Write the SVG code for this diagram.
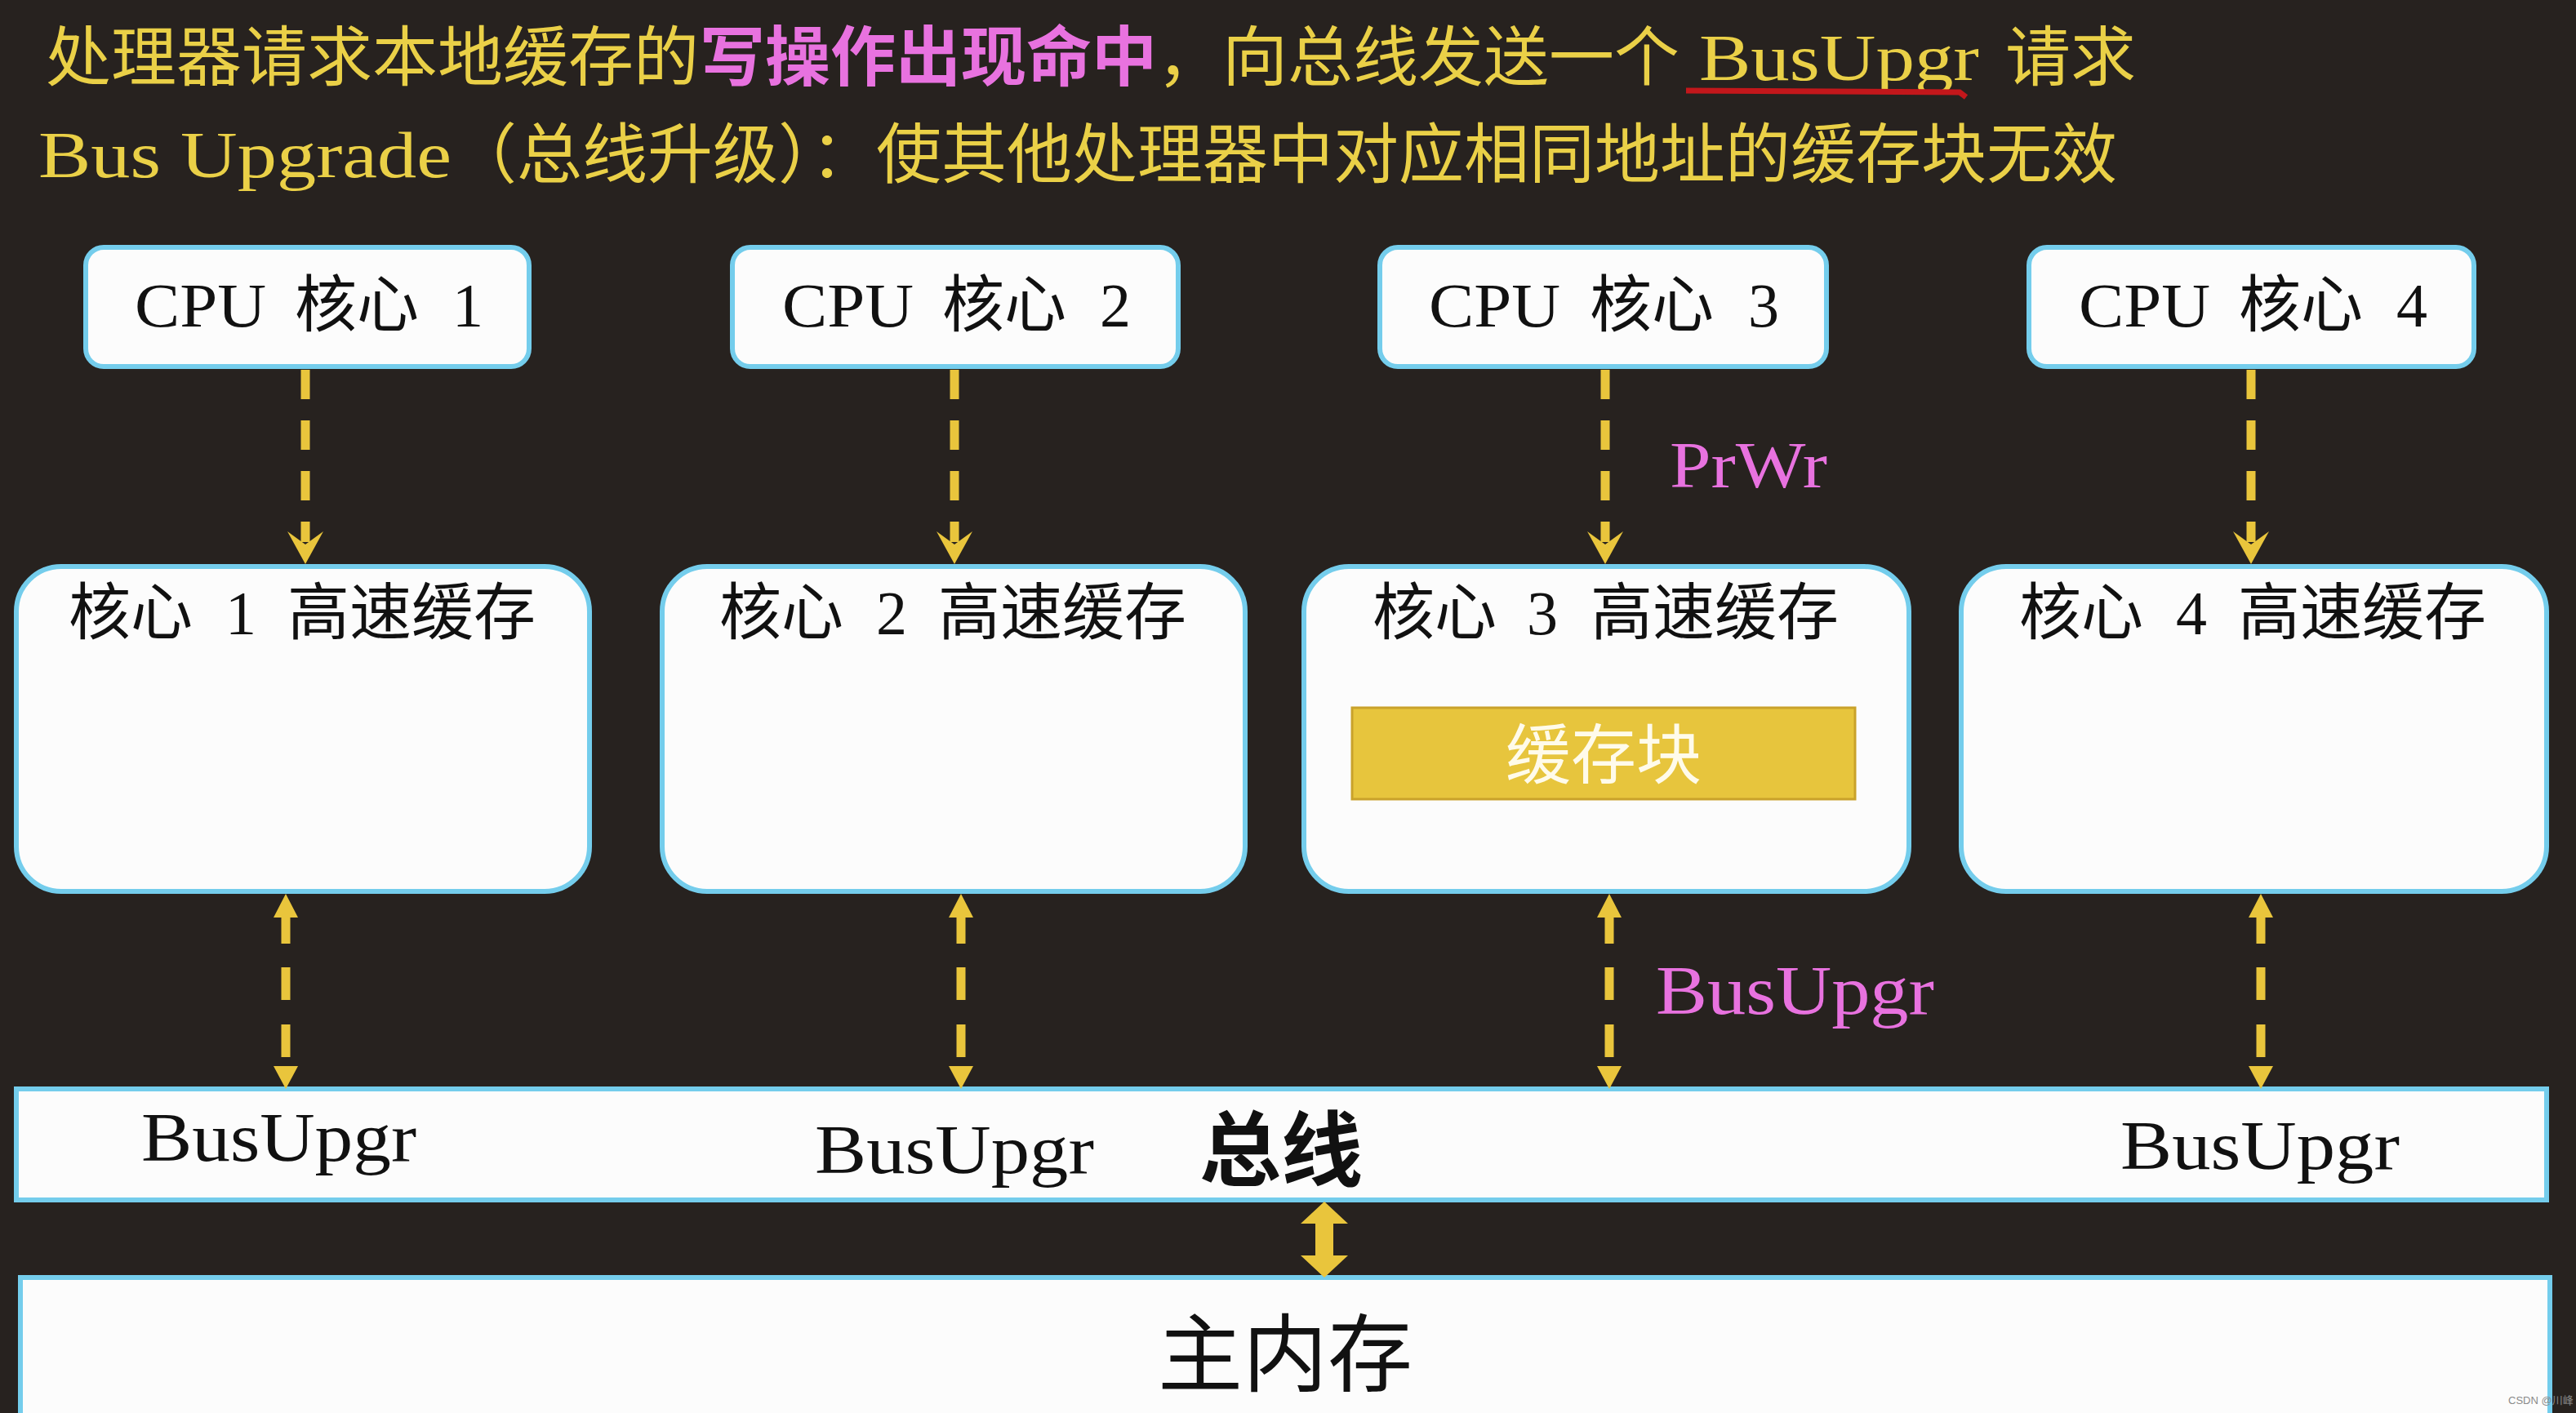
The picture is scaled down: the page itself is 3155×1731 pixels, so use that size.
<svg xmlns="http://www.w3.org/2000/svg" width="3155" height="1731" viewBox="0 0 3155 1731">
<defs>
<style>
.bg{fill:#27221f}
.box{fill:#fcfcfc;stroke:#74cdec;stroke-width:6}
.t{font-family:"Liberation Serif","Noto Sans CJK SC",serif;fill:#111}
.cjk{font-family:"Noto Sans CJK SC","Liberation Sans",sans-serif}
.hy{fill:#ead047}
.hm{fill:#e872df}
.dash{stroke:#e9c53c;stroke-width:11;fill:none}
.ah{fill:#e9c53c}
</style>
</defs>
<rect class="bg" x="0" y="0" width="3155" height="1731"/>

<g id="header">
<text class="t" font-size="80" y="98">
<tspan class="cjk hy" x="56">处理器请求本地缓存的</tspan><tspan class="cjk hm" x="857" font-weight="bold">写操作出现命中</tspan><tspan class="cjk hy" x="1417">，向总线发送一个</tspan><tspan class="hy" x="2081" textLength="343" lengthAdjust="spacingAndGlyphs">BusUpgr</tspan><tspan class="cjk hy" x="2456">请求</tspan>
</text>
<path d="M2065 111 L2400 113 L2408 119" stroke="#c3171b" stroke-width="7" fill="none"/>
<text class="t" font-size="80" y="217">
<tspan class="hy" x="47" textLength="506" lengthAdjust="spacingAndGlyphs">Bus Upgrade</tspan><tspan class="cjk hy" x="553">（总线升级）：使其他处理器中对应相同地址的缓存块无效</tspan>
</text>
</g>

<g id="cpu1">
<rect class="box" x="105" y="303" width="543" height="146" rx="22"/>
<text class="t" font-size="76" y="400"><tspan x="165" textLength="161" lengthAdjust="spacingAndGlyphs">CPU</tspan><tspan class="cjk" x="361">核心</tspan><tspan x="554">1</tspan></text>
</g>
<g id="cpu2">
<rect class="box" x="897" y="303" width="546" height="146" rx="22"/>
<text class="t" font-size="76" y="400"><tspan x="958" textLength="161" lengthAdjust="spacingAndGlyphs">CPU</tspan><tspan class="cjk" x="1154">核心</tspan><tspan x="1347">2</tspan></text>
</g>
<g id="cpu3">
<rect class="box" x="1690" y="303" width="547" height="146" rx="22"/>
<text class="t" font-size="76" y="400"><tspan x="1750" textLength="161" lengthAdjust="spacingAndGlyphs">CPU</tspan><tspan class="cjk" x="1947">核心</tspan><tspan x="2141">3</tspan></text>
</g>
<g id="cpu4">
<rect class="box" x="2485" y="303" width="545" height="146" rx="22"/>
<text class="t" font-size="76" y="400"><tspan x="2546" textLength="161" lengthAdjust="spacingAndGlyphs">CPU</tspan><tspan class="cjk" x="2742">核心</tspan><tspan x="2935">4</tspan></text>
</g>

<g id="cache1">
<rect class="box" x="20" y="694" width="702" height="398" rx="55"/>
<text class="t" font-size="76" y="777"><tspan class="cjk" x="84">核心</tspan><tspan x="276">1</tspan><tspan class="cjk" x="352">高速缓存</tspan></text>
</g>
<g id="cache2">
<rect class="box" x="811" y="694" width="714" height="398" rx="55"/>
<text class="t" font-size="76" y="777"><tspan class="cjk" x="881">核心</tspan><tspan x="1073">2</tspan><tspan class="cjk" x="1149">高速缓存</tspan></text>
</g>
<g id="cache3">
<rect class="box" x="1597" y="694" width="741" height="398" rx="55"/>
<text class="t" font-size="76" y="777"><tspan class="cjk" x="1681">核心</tspan><tspan x="1870">3</tspan><tspan class="cjk" x="1948">高速缓存</tspan></text>
</g>
<g id="block">
<rect x="1656" y="867" width="616" height="112" fill="#e7c53d" stroke="#c9a22b" stroke-width="3"/>
<text class="cjk" font-size="80" x="1964" y="953" text-anchor="middle" fill="#fffbea">缓存块</text>
</g>
<g id="cache4">
<rect class="box" x="2402" y="694" width="717" height="398" rx="55"/>
<text class="t" font-size="76" y="777"><tspan class="cjk" x="2473">核心</tspan><tspan x="2665">4</tspan><tspan class="cjk" x="2741">高速缓存</tspan></text>
</g>

<g id="bus">
<rect class="box" x="20" y="1334" width="3099" height="136"/>
<text class="t" font-size="84" x="173" y="1422" textLength="337" lengthAdjust="spacingAndGlyphs">BusUpgr</text>
<text class="t" font-size="84" x="998" y="1437" textLength="342" lengthAdjust="spacingAndGlyphs">BusUpgr</text>
<text class="t" font-size="84" x="2597" y="1432" textLength="342" lengthAdjust="spacingAndGlyphs">BusUpgr</text>
<text class="cjk" font-size="100" x="1469" y="1445" font-weight="bold" fill="#111">总线</text>
</g>

<g id="memory">
<rect class="box" x="25" y="1565" width="3098" height="200"/>
<text class="cjk" font-size="104" x="1418" y="1697" fill="#111">主内存</text>
</g>

<g id="connectors">
<path class="dash" d="M374 453 V664" stroke-dasharray="36 26"/>
<path class="ah" d="M352 651 L374 691 L396 651 L374 667 Z"/>
<path class="dash" d="M1169 453 V664" stroke-dasharray="36 26"/>
<path class="ah" d="M1147 651 L1169 691 L1191 651 L1169 667 Z"/>
<path class="dash" d="M1966 453 V664" stroke-dasharray="36 26"/>
<path class="ah" d="M1944 651 L1966 691 L1988 651 L1966 667 Z"/>
<path class="dash" d="M2757 453 V664" stroke-dasharray="36 26"/>
<path class="ah" d="M2735 651 L2757 691 L2779 651 L2757 667 Z"/>

<path class="dash" d="M350 1123 V1307" stroke-dasharray="33 29 40 30 40 20"/>
<path class="ah" d="M335 1124 L350 1095 L365 1124 Z M335 1306 L350 1334 L365 1306 Z"/>
<path class="dash" d="M1177 1123 V1307" stroke-dasharray="33 29 40 30 40 20"/>
<path class="ah" d="M1162 1124 L1177 1095 L1192 1124 Z M1162 1306 L1177 1334 L1192 1306 Z"/>
<path class="dash" d="M1971 1123 V1307" stroke-dasharray="33 29 40 30 40 20"/>
<path class="ah" d="M1956 1124 L1971 1095 L1986 1124 Z M1956 1306 L1971 1334 L1986 1306 Z"/>
<path class="dash" d="M2769 1123 V1307" stroke-dasharray="33 29 40 30 40 20"/>
<path class="ah" d="M2754 1124 L2769 1095 L2784 1124 Z M2754 1306 L2769 1334 L2784 1306 Z"/>

<path class="ah" d="M1622 1472 L1651 1499 L1633 1499 L1633 1538 L1651 1538 L1622 1565 L1593 1538 L1611 1538 L1611 1499 L1593 1499 Z"/>

<text class="t hm" font-size="80" x="2045" y="597" textLength="193" lengthAdjust="spacingAndGlyphs">PrWr</text>
<text class="t hm" font-size="84" x="2028" y="1242" textLength="341" lengthAdjust="spacingAndGlyphs">BusUpgr</text>
</g>

<text font-family="Liberation Sans,Noto Sans CJK SC,sans-serif" font-size="13" x="3072" y="1720" fill="#8a8a8a">CSDN @川峰</text>
</svg>
